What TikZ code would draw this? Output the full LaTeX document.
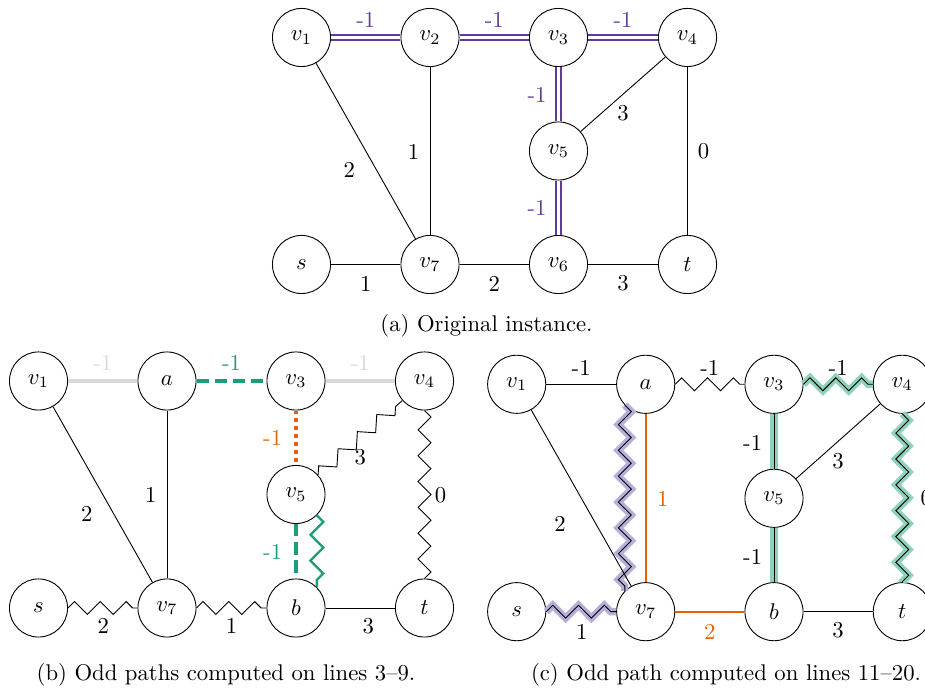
\documentclass[tikz,border=0pt]{standalone}
\usetikzlibrary{decorations.pathmorphing}
\definecolor{pur}{HTML}{5E3C99}
\definecolor{lav}{HTML}{B8AEDA}
\definecolor{org}{HTML}{E66101}
\definecolor{grn}{HTML}{1B9E77}
\definecolor{tealh}{HTML}{8ED1BC}
\definecolor{lgray}{HTML}{D9D9D9}
\begin{document}
\begin{tikzpicture}[x=0.4405pt,y=-0.4405pt,
  vtx/.style={circle,draw,minimum size=25.6pt,inner sep=0pt,fill=white},
  lab/.style={inner sep=0pt},
  zz/.style={decorate,decoration={zigzag,segment length=4mm,amplitude=1mm}},
  dbl/.style={draw=pur,double=white,line width=1.1pt,double distance=1.2pt},
  grayedge/.style={draw=lgray,line width=2pt},
  gdash/.style={draw=grn,line width=1.8pt,dash pattern=on 5.5pt off 2.5pt},
  odot/.style={draw=org,line width=1.5pt,dotted},
  oline/.style={draw=org,line width=0.9pt},
  lavhalo/.style={draw=lav,line width=3.2pt},
  tealhalo/.style={draw=tealh,line width=3.2pt},
  captext/.style={inner sep=0pt,font=\normalsize}]
\useasboundingbox (0,0) rectangle (925,690);
\clip (0,0) rectangle (925,690);

% ---------------- (a) ----------------
\node[vtx] (v1) at (301.5,37.5) {$v_1$};
\node[vtx] (v2) at (430,37.5) {$v_2$};
\node[vtx] (v3) at (558.5,37.5) {$v_3$};
\node[vtx] (v4) at (687.5,37.5) {$v_4$};
\node[vtx] (v5) at (558.5,151) {$v_5$};
\node[vtx] (s) at (301.5,264.5) {$s$};
\node[vtx] (v7) at (430,264.5) {$v_7$};
\node[vtx] (v6) at (558.5,264.5) {$v_6$};
\node[vtx] (t) at (687.5,264.5) {$t$};

\draw[dbl] (v1) -- node[lab,text=pur,shift={(0,-17.5)}] {-1} (v2);
\draw[dbl] (v2) -- node[lab,text=pur,shift={(0,-17.5)}] {-1} (v3);
\draw[dbl] (v3) -- node[lab,text=pur,shift={(0,-17.5)}] {-1} (v4);
\draw[dbl] (v3) -- node[lab,text=pur,shift={(-21.5,0.5)}] {-1} (v5);
\draw[dbl] (v5) -- node[lab,text=pur,shift={(-21.5,0.5)}] {-1} (v6);
\draw (v4) -- node[lab,shift={(0,19)}] {3} (v5);
\draw (v4) -- node[lab,shift={(16,0)}] {0} (t);
\draw (v1) -- node[lab,shift={(-16.5,19)}] {2} (v7);
\draw (v2) -- node[lab,shift={(-16.5,0.5)}] {1} (v7);
\draw (s) -- node[lab,shift={(0,19)}] {1} (v7);
\draw (v7) -- node[lab,shift={(0,19)}] {2} (v6);
\draw (v6) -- node[lab,shift={(0,19)}] {3} (t);

\node[captext] (capa) at (486.5,326) {(a) Original instance.};

% ---------------- (b) ----------------
\node[vtx] (bv1) at (38.5,381) {$v_1$};
\node[vtx] (ba) at (167,381) {$a$};
\node[vtx] (bv3) at (296,381) {$v_3$};
\node[vtx] (bv4) at (424.5,381) {$v_4$};
\node[vtx] (bv5) at (296,494.5) {$v_5$};
\node[vtx] (bs) at (38.5,608) {$s$};
\node[vtx] (bv7) at (167,608) {$v_7$};
\node[vtx] (bb) at (296,608) {$b$};
\node[vtx] (bt) at (424.5,608) {$t$};

\draw[grayedge] (bv1) -- node[lab,text=lgray,shift={(0,-18)}] {-1} (ba);
\draw[gdash] (ba) -- node[lab,text=grn,shift={(0,-18)}] {-1} (bv3);
\draw[grayedge] (bv3) -- node[lab,text=lgray,shift={(0,-18)}] {-1} (bv4);
\draw[odot] (bv3) -- node[lab,text=org,shift={(-23.3,0.5)}] {-1} (bv5);
\draw[gdash] (bv5) -- node[lab,text=grn,shift={(-23.3,0.5)}] {-1} (bb);
\draw[grn,line width=1pt,zz] (bv5.-45) -- (bb.45);
\draw[zz] (bv5) -- node[lab,shift={(0,19)}] {3} (bv4);
\draw[zz] (bv4) -- node[lab,shift={(16,0.5)}] {0} (bt);
\draw (bv1) -- node[lab,shift={(-16,19)}] {2} (bv7);
\draw (ba) -- node[lab,shift={(-16.3,0.5)}] {1} (bv7);
\draw[zz] (bs) -- node[lab,shift={(0.5,18)}] {2} (bv7);
\draw[zz] (bv7) -- node[lab,shift={(0,18)}] {1} (bb);
\draw (bb) -- node[lab,shift={(8,18)}] {3} (bt);

\node[captext] (capb) at (226,675) {(b) Odd paths computed on lines 3--9.};

% ---------------- (c) ----------------
\node[vtx] (cv1) at (516.7,384.3) {$v_1$};
\node[vtx] (ca) at (645.7,384.3) {$a$};
\node[vtx] (cv3) at (774,384.3) {$v_3$};
\node[vtx] (cv4) at (902.3,384.3) {$v_4$};
\node[vtx] (cv5) at (774,498.3) {$v_5$};
\node[vtx] (cs) at (516.7,611.7) {$s$};
\node[vtx] (cv7) at (645.7,611.7) {$v_7$};
\node[vtx] (cb) at (774,611.7) {$b$};
\node[vtx] (ct) at (902.3,611.7) {$t$};

\draw[lavhalo,zz] (ca.225) -- (cv7.135);
\draw[lavhalo,zz] (cs) -- (cv7);
\draw[tealhalo,zz] (cv3) -- (cv4);
\draw[tealhalo] (cv3) -- (cv5);
\draw[tealhalo] (cv5) -- (cb);
\draw[tealhalo,zz] (cv4) -- (ct);

\draw (cv1) -- node[lab,shift={(0,-16)}] {-1} (ca);
\draw[zz] (ca) -- node[lab,shift={(0,-16)}] {-1} (cv3);
\draw[zz] (cv3) -- node[lab,shift={(0,-16)}] {-1} (cv4);
\draw (cv3) -- node[lab,shift={(-21.3,2)}] {-1} (cv5);
\draw (cv5) -- node[lab,shift={(-21.3,1.7)}] {-1} (cb);
\draw (cv4) -- node[lab,shift={(0,19.4)}] {3} (cv5);
\draw[zz] (cv4) -- node[lab,shift={(24,0)}] {0} (ct);
\draw (cv1) -- node[lab,shift={(-21.2,26.3)}] {2} (cv7);
\draw[oline] (ca) -- node[lab,text=org,shift={(17,1)}] {1} (cv7);
\draw[zz] (ca.225) -- (cv7.135);
\draw[zz] (cs) -- node[lab,shift={(0.5,20)}] {1} (cv7);
\draw[oline] (cv7) -- node[lab,text=org,shift={(0,20)}] {2} (cb);
\draw (cb) -- node[lab,shift={(0,18)}] {3} (ct);

\node[captext] (capc) at (726,675) {(c) Odd path computed on lines 11--20.};
\end{tikzpicture}
\end{document}
